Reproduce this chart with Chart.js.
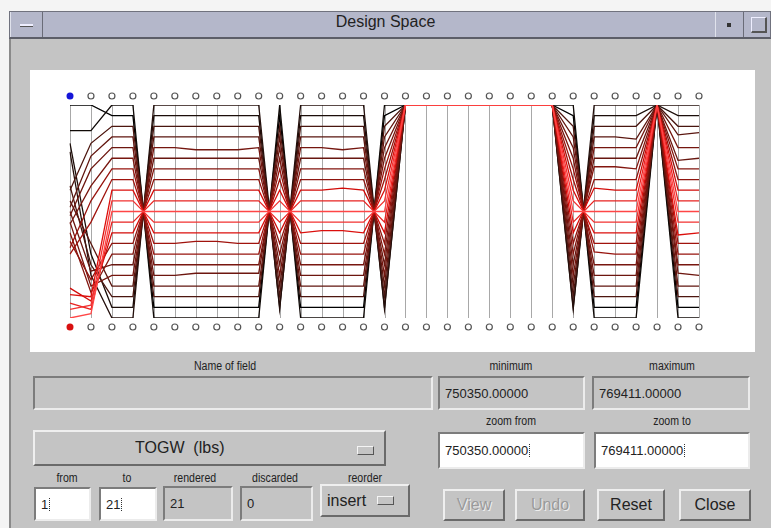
<!DOCTYPE html>
<html>
<head>
<meta charset="utf-8">
<script src="https://cdn.jsdelivr.net/npm/chart.js@4.4.1/dist/chart.umd.min.js"></script>
<style>
  body { margin: 0; width: 771px; height: 528px; overflow: hidden; background: #f4f4f4; font-family: 'Liberation Sans', Arial, sans-serif; position: relative; }
  .abs { position: absolute; box-sizing: border-box; }
  #panel { left: 9px; top: 38px; width: 762px; height: 490px; background: #c4c4c4; border-left: 2px solid #8a8a8a; }
  #titlebar { left: 9px; top: 11px; width: 762px; height: 28px; background: #b4b7ca; border: 1px solid #70727e; border-bottom: 2px solid #5c5e68; }
  #title { left: 0; top: 13px; width: 771px; text-align: center; font-size: 16px; color: #222; }
  .tbtn { border-right: 1px solid #6a6c78; border-left: 1px solid #e0e2ec; }
  #plotbox { left: 30px; top: 70px; width: 725px; height: 282px; background: #fff; }
  .lbl { font-size: 12px; color: #222; text-align: center; transform: scaleX(0.88); white-space: nowrap; }
  .sunk { background: #c4c4c4; border-top: 2px solid #7c7c7c; border-left: 2px solid #7c7c7c; border-bottom: 2px solid #ececec; border-right: 2px solid #ececec; font-size: 13px; color: #222; padding-left: 5px; display: flex; align-items: center; }
  .white { background: #fff; }
  .raised { background: #c4c4c4; border-top: 2px solid #efefef; border-left: 2px solid #efefef; border-bottom: 2px solid #6a6a6a; border-right: 2px solid #6a6a6a; display: flex; align-items: center; justify-content: center; font-size: 16px; color: #222; }
  .dis { color: #9a9a9a; text-shadow: 1px 1px 0 #eee; }
  .ind { display: inline-block; width: 15px; height: 7px; border-top: 1px solid #f4f4f4; border-left: 1px solid #f4f4f4; border-bottom: 1px solid #555; border-right: 1px solid #555; }
  .caret { display: inline-block; width: 1px; height: 13px; margin-left: 1px; border-left: 1px dotted #333; }
</style>
</head>
<body>
<div class="abs" id="panel"></div>
<div class="abs" id="titlebar"></div>
<div class="abs tbtn" style="left:10px;top:12px;width:33px;height:25px;"></div>
<div class="abs" style="left:20px;top:24px;width:13px;height:3px;background:#eef;border-bottom:1px solid #555;"></div>
<div class="abs tbtn" style="left:715px;top:12px;width:29px;height:25px;"></div>
<div class="abs" style="left:727px;top:23px;width:4px;height:4px;background:#333;"></div>
<div class="abs" style="left:751px;top:17px;width:16px;height:16px;border:1px solid #eef;border-right:2px solid #555;border-bottom:2px solid #555;"></div>
<div class="abs" id="title">Design Space</div>

<div class="abs" id="plotbox"><canvas id="pc" width="725" height="282"></canvas></div>

<div class="abs lbl" style="left:150px;top:359px;width:150px;">Name of field</div>
<div class="abs lbl" style="left:461px;top:359px;width:100px;">minimum</div>
<div class="abs lbl" style="left:622px;top:359px;width:100px;">maximum</div>
<div class="abs sunk" style="left:33px;top:376px;width:400px;height:34px;"></div>
<div class="abs sunk" style="left:438px;top:376px;width:147px;height:34px;">750350.00000</div>
<div class="abs sunk" style="left:592px;top:376px;width:158px;height:34px;">769411.00000</div>

<div class="abs lbl" style="left:461px;top:414px;width:100px;">zoom from</div>
<div class="abs lbl" style="left:622px;top:414px;width:100px;">zoom to</div>
<div class="abs raised" style="left:33px;top:430px;width:353px;height:36px;"><span style="position:absolute;left:100px;top:7px;">TOGW&nbsp;&nbsp;(lbs)</span><span class="ind" style="position:absolute;left:322px;top:14px;"></span></div>
<div class="abs sunk white" style="left:438px;top:432px;width:147px;height:37px;">750350.00000<span class="caret"></span></div>
<div class="abs sunk white" style="left:594px;top:432px;width:156px;height:37px;">769411.00000<span class="caret"></span></div>

<div class="abs lbl" style="left:42px;top:471px;width:50px;">from</div>
<div class="abs lbl" style="left:102px;top:471px;width:50px;">to</div>
<div class="abs lbl" style="left:160px;top:471px;width:70px;">rendered</div>
<div class="abs lbl" style="left:240px;top:471px;width:70px;">discarded</div>
<div class="abs lbl" style="left:330px;top:471px;width:70px;">reorder</div>
<div class="abs sunk white" style="left:34px;top:487px;width:57px;height:34px;">1<span class="caret"></span></div>
<div class="abs sunk white" style="left:99px;top:487px;width:58px;height:34px;">21<span class="caret"></span></div>
<div class="abs sunk" style="left:163px;top:486px;width:70px;height:35px;">21</div>
<div class="abs sunk" style="left:240px;top:486px;width:73px;height:35px;">0</div>
<div class="abs raised" style="left:320px;top:484px;width:90px;height:33px;justify-content:flex-start;padding-left:5px;">insert&nbsp;<span class="ind" style="margin-left:6px;"></span></div>
<div class="abs raised dis" style="left:443px;top:489px;width:62px;height:32px;">View</div>
<div class="abs raised dis" style="left:515px;top:489px;width:70px;height:32px;">Undo</div>
<div class="abs raised" style="left:597px;top:489px;width:68px;height:32px;">Reset</div>
<div class="abs raised" style="left:679px;top:489px;width:72px;height:32px;">Close</div>

<script>
// 31 fields: TOGW, one more output, then the design variables
const fieldNames = ['TOGW (lbs)', 'out2', 'x1', 'x2', 'x3', 'x4', 'x5', 'x6', 'x7', 'x8', 'x9', 'x10',
  'x11', 'x12', 'x13', 'x14', 'x15', 'x16', 'x17', 'x18', 'x19', 'x20', 'x21', 'x22', 'x23',
  'x24', 'x25', 'x26', 'x27', 'x28', 'x29'];

// one line per design (normalised 0..1 on every field)
const run01 = [.78,.20, 0,0, 1,1,1,1,1,1, .04, 1,1,1,1, .04, 1,1,1,1,1,1,1,1, .04, 1,1,1, 1, 1,1];
const run02 = [.82,.30, .05,.05, .95,.95,.95,.95,.95,.95, .05, .95,.95,.95,.95, .05, 1,1,1,1,1,1,1,1, .05, .95,.95,.95, 1, .95,.95];
const run03 = [.62,.25, .10,.10, .90,.90,.90,.90,.90,.90, .10, .90,.90,.90,.90, .10, 1,1,1,1,1,1,1,1, .10, .90,.90,.90, 1, .90,.90];
const run04 = [.55,.35, .15,.15, .85,.85,.85,.85,.85,.85, .15, .85,.85,.85,.85, .15, 1,1,1,1,1,1,1,1, .15, .85,.85,.84, 1, .86,.87];
const run05 = [.45,.15, .20,.20, .80,.80,.79,.79,.79,.80, .20, .80,.80,.79,.80, .20, 1,1,1,1,1,1,1,1, .20, .80,.80,.80, 1, .80,.80];
const run06 = [.50,.22, .25,.25, .75,.75,.75,.75,.75,.75, .25, .75,.75,.75,.75, .25, 1,1,1,1,1,1,1,1, .25, .75,.75,.75, 1, .74,.75];
const run07 = [.40,.12, .30,.30, .70,.70,.70,.70,.70,.70, .30, .70,.70,.70,.70, .30, 1,1,1,1,1,1,1,1, .30, .71,.71,.70, 1, .70,.70];
const run08 = [.36,.18, .35,.35, .65,.65,.65,.65,.65,.65, .35, .65,.65,.65,.65, .35, 1,1,1,1,1,1,1,1, .35, .65,.65,.65, 1, .65,.65];
const run09 = [.14,.08, .40,.40, .60,.60,.60,.60,.60,.60, .40, .60,.60,.61,.60, .40, 1,1,1,1,1,1,1,1, .40, .61,.60,.60, 1, .60,.60];
const run10 = [.07,.04, .45,.45, .55,.55,.55,.55,.55,.55, .45, .55,.55,.55,.55, .45, 1,1,1,1,1,1,1,1, .45, .55,.55,.55, 1, .55,.55];
const run11 = [0,.02, .50,.50, .50,.50,.50,.50,.50,.50, .50, .50,.50,.50,.50, .50, 1,1,1,1,1,1,1,1, .50, .50,.50,.50, 1, .50,.50];
const run12 = [.04,.06, .55,.55, .45,.45,.45,.45,.45,.45, .55, .45,.45,.45,.45, .55, 1,1,1,1,1,1,1,1, .55, .45,.45,.45, 1, .45,.45];
const run13 = [.11,.10, .60,.60, .40,.40,.40,.40,.40,.40, .60, .40,.41,.41,.40, .60, 1,1,1,1,1,1,1,1, .60, .40,.40,.40, 1, .39,.40];
const run14 = [.30,.45, .65,.65, .35,.35,.36,.36,.35,.35, .65, .35,.35,.35,.35, .65, 1,1,1,1,1,1,1,1, .65, .35,.35,.35, 1, .35,.35];
const run15 = [.33,.55, .70,.70, .30,.30,.30,.30,.30,.30, .70, .30,.30,.30,.30, .70, 1,1,1,1,1,1,1,1, .70, .31,.30,.30, 1, .30,.30];
const run16 = [.44,.62, .75,.75, .25,.25,.25,.25,.25,.25, .75, .25,.25,.25,.25, .75, 1,1,1,1,1,1,1,1, .75, .25,.25,.25, 1, .25,.25];
const run17 = [.48,.70, .80,.80, .20,.20,.21,.21,.21,.21, .80, .20,.20,.20,.20, .80, 1,1,1,1,1,1,1,1, .80, .20,.20,.20, 1, .21,.20];
const run18 = [.52,.76, .85,.85, .15,.15,.15,.15,.15,.15, .85, .15,.15,.15,.15, .85, 1,1,1,1,1,1,1,1, .85, .15,.15,.15, 1, .15,.15];
const run19 = [.60,.82, .90,.90, .10,.10,.10,.10,.10,.10, .90, .10,.10,.10,.10, .90, 1,1,1,1,1,1,1,1, .90, .10,.10,.10, 1, .10,.10];
const run20 = [1,1, .95,.95, .05,.05,.05,.05,.05,.05, .95, .05,.05,.05,.05, .95, 1,1,1,1,1,1,1,1, .95, .05,.05,.05, 1, .05,.05];
const run21 = [.88,.88, 1,1, 0,0,0,0,0,0, 1, 0,0,0,0, 1, 1,1,1,1,1,1,1,1, 1, 0,0,0, 1, 0,0];

const runs = [run01, run02, run03, run04, run05, run06, run07, run08, run09, run10, run11,
  run12, run13, run14, run15, run16, run17, run18, run19, run20, run21];

// colour by TOGW: low = red, high = black
function togwColor(c) {
  const r = Math.round(255 * Math.pow(1 - c, 1.3));
  let g = Math.round(90 * c * (1 - c));
  let pink = c < 0.12 ? Math.round(70 * (1 - c / 0.12)) : 0;
  return 'rgb(' + r + ',' + (g + pink) + ',' + (Math.round(g * 0.7) + pink) + ')';
}

// draw the vertical field axes and the small circles at both ends
const axesPlugin = {
  id: 'axes',
  beforeDatasetsDraw(chart) {
    const { ctx, chartArea, scales } = chart;
    ctx.save();
    ctx.strokeStyle = '#a8a8a8';
    ctx.lineWidth = 1;
    fieldNames.forEach((f, i) => {
      const x = Math.round(scales.x.getPixelForValue(i)) + 0.5;
      ctx.beginPath();
      ctx.moveTo(x, chartArea.top);
      ctx.lineTo(x, chartArea.bottom);
      ctx.stroke();
    });
    ctx.restore();
  },
  afterDatasetsDraw(chart) {
    const { ctx, chartArea, scales } = chart;
    ctx.save();
    fieldNames.forEach((f, i) => {
      const x = scales.x.getPixelForValue(i);
      [chartArea.top - 9, chartArea.bottom + 9].forEach((y, j) => {
        ctx.beginPath();
        ctx.arc(x, y, i === 0 ? 3.5 : 3, 0, Math.PI * 2);
        if (i === 0) {
          ctx.fillStyle = j === 0 ? '#1515d8' : '#d81010';
          ctx.fill();
        } else {
          ctx.fillStyle = '#fff';
          ctx.fill();
          ctx.strokeStyle = '#555';
          ctx.lineWidth = 1.2;
          ctx.stroke();
        }
      });
    });
    ctx.restore();
  }
};

new Chart(document.getElementById('pc'), {
  type: 'line',
  data: {
    labels: fieldNames,
    datasets: runs.map((r, i) => ({
      label: 'design ' + (i + 1),
      data: r,
      borderColor: togwColor(r[0]),
      borderWidth: 1.3,
      pointRadius: 0,
      tension: 0,
      order: r[0]
    }))
  },
  options: {
    responsive: false,
    animation: false,
    layout: { padding: { left: 40, right: 56, top: 35, bottom: 34 } },
    scales: {
      x: { display: false },
      y: { display: false, min: 0, max: 1 }
    },
    plugins: { legend: { display: false }, tooltip: { enabled: false } }
  },
  plugins: [axesPlugin]
});
</script>
</body>
</html>
